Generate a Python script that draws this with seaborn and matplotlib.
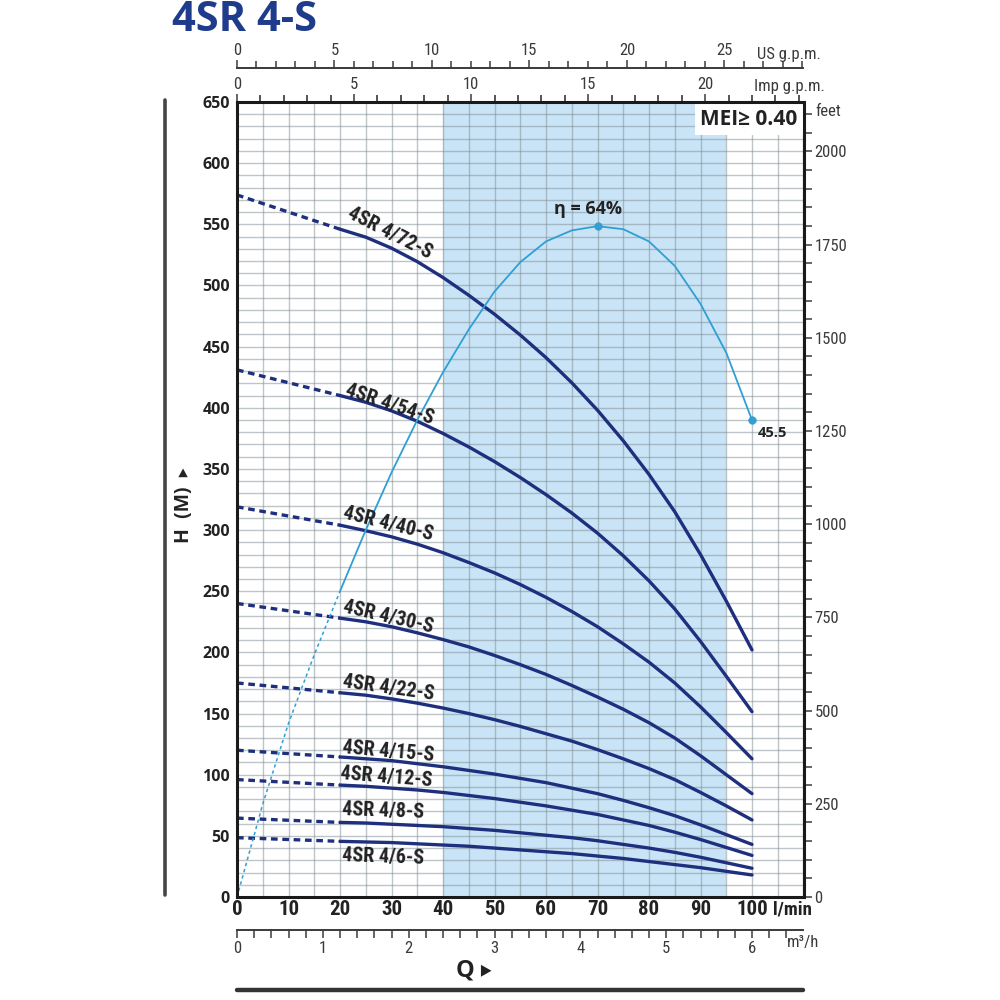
import numpy as np
import matplotlib
matplotlib.use("Agg")
import matplotlib.pyplot as plt
import matplotlib.font_manager as fm
import seaborn as sns
from matplotlib.patches import Rectangle
from matplotlib.lines import Line2D

# ---------------- data ----------------
flow_solid = [20, 25, 30, 35, 40, 45, 50, 55, 60, 65, 70, 75, 80, 85, 90, 95, 100]
flow_dash = [0, 20]

curve_names = ["4SR 4/72-S", "4SR 4/54-S", "4SR 4/40-S", "4SR 4/30-S", "4SR 4/22-S",
               "4SR 4/15-S", "4SR 4/12-S", "4SR 4/8-S", "4SR 4/6-S"]
shutoff_head = [574, 431, 319, 240, 175, 120, 96, 64.5, 48.5]

head_72 = [546, 539.5, 530.5, 519.5, 506.5, 492, 476.5, 459.5, 441, 420.5, 398, 373, 345.5, 315, 280, 242, 202]
head_54 = [410, 404.5, 397.5, 389, 379, 368, 356, 343, 329, 314, 297.5, 279, 258.5, 235.5, 209, 180.5, 151.5]
head_40 = [304, 299.5, 294.5, 288.5, 281.5, 273.5, 265, 255.5, 245, 233.5, 221, 207, 192, 175, 155.5, 134.5, 113]
head_30 = [228, 225, 221, 216, 210.5, 204.5, 197.5, 190, 182, 173, 163.5, 153.5, 142.5, 130, 115.5, 100, 84.5]
head_22 = [167, 165, 162, 158.5, 154.5, 150, 145, 139.5, 133.5, 127.5, 120.5, 113, 105, 96, 85.5, 74.5, 63]
head_15 = [114.5, 113, 111.5, 109, 106.5, 103.5, 100.5, 97, 93.5, 89, 84.5, 79, 73, 66.5, 59, 51, 43]
head_12 = [91.5, 90.5, 89, 87.5, 85.5, 83, 80.5, 77.5, 74.5, 71, 67.5, 63, 58.5, 53, 47, 40.5, 34]
head_8 = [61, 60.5, 59.5, 58.5, 57.5, 56, 54.5, 52.5, 50.5, 48.5, 46, 43, 40, 36.5, 32.5, 28, 23.5]
head_6 = [45.5, 45, 44.5, 43.5, 42.5, 41.5, 40, 38.5, 37, 35.5, 33.5, 31.5, 29, 26.5, 24, 21, 18]
heads = [head_72, head_54, head_40, head_30, head_22, head_15, head_12, head_8, head_6]

eff_flow_dotted = [0, 5, 10, 15, 20]
eff_dotted = [0, 76, 142, 198, 250]
eff_flow = flow_solid
eff_curve = [250, 300, 347, 390, 429, 464, 495, 519, 536, 545, 548.5, 546, 536, 516, 485, 445, 390]
eff_peak_label = "η = 64%"
eff_end_label = "45.5"

x_ticks = [0, 10, 20, 30, 40, 50, 60, 70, 80, 90, 100]
y_ticks = list(range(0, 651, 50))
ft_ticks = [0, 250, 500, 750, 1000, 1250, 1500, 1750, 2000]
us_ticks = [0, 5, 10, 15, 20, 25]
imp_ticks = [0, 5, 10, 15, 20]
m3h_ticks = [0, 1, 2, 3, 4, 5, 6]
band_range = [40, 95]

# ---------------- style ----------------
sns.set_theme(style="white")
avail = {f.name for f in fm.fontManager.ttflist}
NARROW = next((n for n in ["Liberation Sans Narrow", "Roboto Condensed", "DejaVu Sans"] if n in avail), "DejaVu Sans")
WIDE = "Open Sans" if "Open Sans" in avail else "DejaVu Sans"
plt.rcParams["font.family"] = [NARROW, "DejaVu Sans"]
plt.rcParams["font.stretch"] = "condensed"

NAVY = "#1e2f7d"
EFF = "#2f9fd4"
SHADE = "#c9e4f6"
TXT = "#222222"
GRAY = "#3a3a3a"

fig = plt.figure(figsize=(10, 10), dpi=100)
ax = fig.add_axes([0.237, 0.103, 0.5665, 0.795])
ax.set_xlim(0, 110)
ax.set_ylim(0, 650)

ax.axvspan(band_range[0], band_range[1], color=SHADE, lw=0, zorder=0.2)
ax.set_axisbelow(True)
ax.set_xticks(x_ticks)
ax.set_xticks(np.arange(0, 111, 5), minor=True)
ax.set_yticks(y_ticks)
ax.set_yticks(np.arange(0, 651, 10), minor=True)
ax.grid(which="both", color="#7f8c95", alpha=0.5, lw=1.0)
ax.tick_params(which="both", length=0)
ax.set_xticklabels([str(v) for v in x_ticks], fontsize=15, fontweight="bold",
                   color=TXT, family=[NARROW, "DejaVu Sans"])
ax.set_yticklabels([str(v) for v in y_ticks], fontsize=11.5, fontweight="bold",
                   color=TXT, family=[WIDE, "DejaVu Sans"])
ax.tick_params(axis="x", pad=2)
ax.tick_params(axis="y", pad=5)
for s in ax.spines.values():
    s.set_linewidth(2.2)
    s.set_color("#1a1a1a")
    s.set_zorder(5)

# MEI box
ax.add_patch(Rectangle((89, 623), 21, 27, facecolor="white", edgecolor="none", zorder=0.7))
ax.text(99.3, 635.5, "MEI≥ 0.40", ha="center", va="center", fontsize=15, fontweight="bold",
        color=TXT, family=[WIDE, "DejaVu Sans"], zorder=4)

# pump curves
for name, h0, h in zip(curve_names, shutoff_head, heads):
    sns.lineplot(x=flow_dash, y=[h0, h[0]], ax=ax, color=NAVY, lw=2.4,
                 linestyle=(0, (2.0, 1.4)), zorder=3)
    sns.lineplot(x=flow_solid, y=h, ax=ax, color=NAVY, lw=2.4, zorder=3)

# efficiency
sns.lineplot(x=eff_flow_dotted, y=eff_dotted, ax=ax, color=EFF, lw=1.1,
             linestyle=(0, (2.2, 2.0)), zorder=3.5)
sns.lineplot(x=eff_flow, y=eff_curve, ax=ax, color=EFF, lw=1.3, zorder=3.5)
i_pk = int(np.argmax(eff_curve))
sns.scatterplot(x=[eff_flow[i_pk], eff_flow[-1]], y=[eff_curve[i_pk], eff_curve[-1]],
                ax=ax, color=EFF, s=30, edgecolor=EFF, zorder=4)
ax.text(eff_flow[i_pk] - 1.9, eff_curve[i_pk] + 14, eff_peak_label, ha="center", va="center",
        fontsize=13, fontweight="bold", color=TXT, family=[WIDE, "DejaVu Sans"], zorder=4)
ax.text(eff_flow[-1] + 1.2, eff_curve[-1] - 11, eff_end_label, ha="left", va="center",
        fontsize=10.5, fontweight="bold", color=TXT, family=[WIDE, "DejaVu Sans"], zorder=4)

# curve labels (positions / rotations are layout)
label_pos = [(29.6, 543, -27), (29.6, 403, -18.5), (29.4, 305, -14), (29.4, 229, -13),
             (29.4, 171, -8), (29.4, 119, -5), (29.0, 98, -4.5), (28.3, 70, -2), (28.3, 33, -2)]
for name, (qx, hy, rot) in zip(curve_names, label_pos):
    ax.text(qx, hy, name, ha="center", va="center", rotation=rot, rotation_mode="anchor",
            fontsize=14.5, fontweight="bold", color=TXT, zorder=4)

# secondary axes
sec_kw = dict(labelsize=12, colors=GRAY)
imp = ax.secondary_xaxis("top", functions=(lambda q: q / 4.54609, lambda g: g * 4.54609))
imp.set_xticks(imp_ticks)
imp.set_xticks(np.arange(0, 25, 1), minor=True)
imp.tick_params(which="major", length=6, width=1.1, pad=1, **sec_kw)
imp.tick_params(which="minor", length=5, width=1.1)
imp.spines["top"].set_visible(False)

us = ax.secondary_xaxis(1.0428, functions=(lambda q: q / 3.78541, lambda g: g * 3.78541))
us.set_xticks(us_ticks)
us.set_xticks(np.arange(0, 30, 1), minor=True)
us.tick_params(which="major", length=6, width=1.1, pad=1, **sec_kw)
us.tick_params(which="minor", length=5, width=1.1, color=GRAY)
for s in us.spines.values():
    s.set_linewidth(1.4)
    s.set_color(GRAY)

m3 = ax.secondary_xaxis(-0.0415, functions=(lambda q: q / 16.6667, lambda m: m * 16.6667))
m3.set_xticks(m3h_ticks)
m3.set_xticks(np.arange(0, 6.61, 0.2), minor=True)
m3.tick_params(which="major", length=6, width=1.1, pad=2, **sec_kw)
m3.tick_params(which="minor", length=6, width=1.1, color=GRAY)
for s in m3.spines.values():
    s.set_linewidth(1.4)
    s.set_color(GRAY)

ft = ax.secondary_yaxis("right", functions=(lambda m: m * 3.28084, lambda f: f / 3.28084))
ft.set_yticks(ft_ticks)
ft.set_yticks(np.arange(0, 2101, 50), minor=True)
ft.tick_params(which="major", length=6, width=1.1, pad=2, **sec_kw)
ft.tick_params(which="minor", length=6, width=1.1, color=GRAY)
ft.spines["right"].set_visible(False)

# unit labels & titles (figure coordinates from pixel layout)
def F(x, y):
    return x / 1000.0, 1 - y / 1000.0

fig.text(*F(757, 54), "US g.p.m.", fontsize=12, color=GRAY, ha="left", va="center")
fig.text(*F(754, 87), "Imp g.p.m.", fontsize=12, color=GRAY, ha="left", va="center")
fig.text(*F(815, 111), "feet", fontsize=12, color=GRAY, ha="left", va="center")
fig.text(*F(773, 910), "l/min", fontsize=13.5, fontweight="bold", color=TXT, ha="left", va="center")
fig.text(*F(787, 943), "m³/h", fontsize=12, color=GRAY, ha="left", va="center")
fig.text(*F(172, 31), "4SR 4-S", fontsize=30, fontweight="bold", color="#1f3c8c",
         ha="left", va="baseline", family=[WIDE, "DejaVu Sans"])
fig.text(*F(184, 505), "H  (M)  ▸", rotation=90, fontsize=14, fontweight="bold", color=TXT,
         ha="center", va="center", family=[WIDE, "DejaVu Sans"])
fig.text(*F(474, 971), "Q ▸", fontsize=17, fontweight="bold", color=TXT,
         ha="center", va="center", family=[WIDE, "DejaVu Sans"])

fig.add_artist(Line2D([0.165, 0.165], [1 - 0.100, 1 - 0.895], color="#444444", lw=2.6))
fig.add_artist(Line2D([0.237, 0.803], [1 - 0.990, 1 - 0.990], color="#333333", lw=3.2))

fig.savefig("out.png", dpi=100, facecolor="white")
